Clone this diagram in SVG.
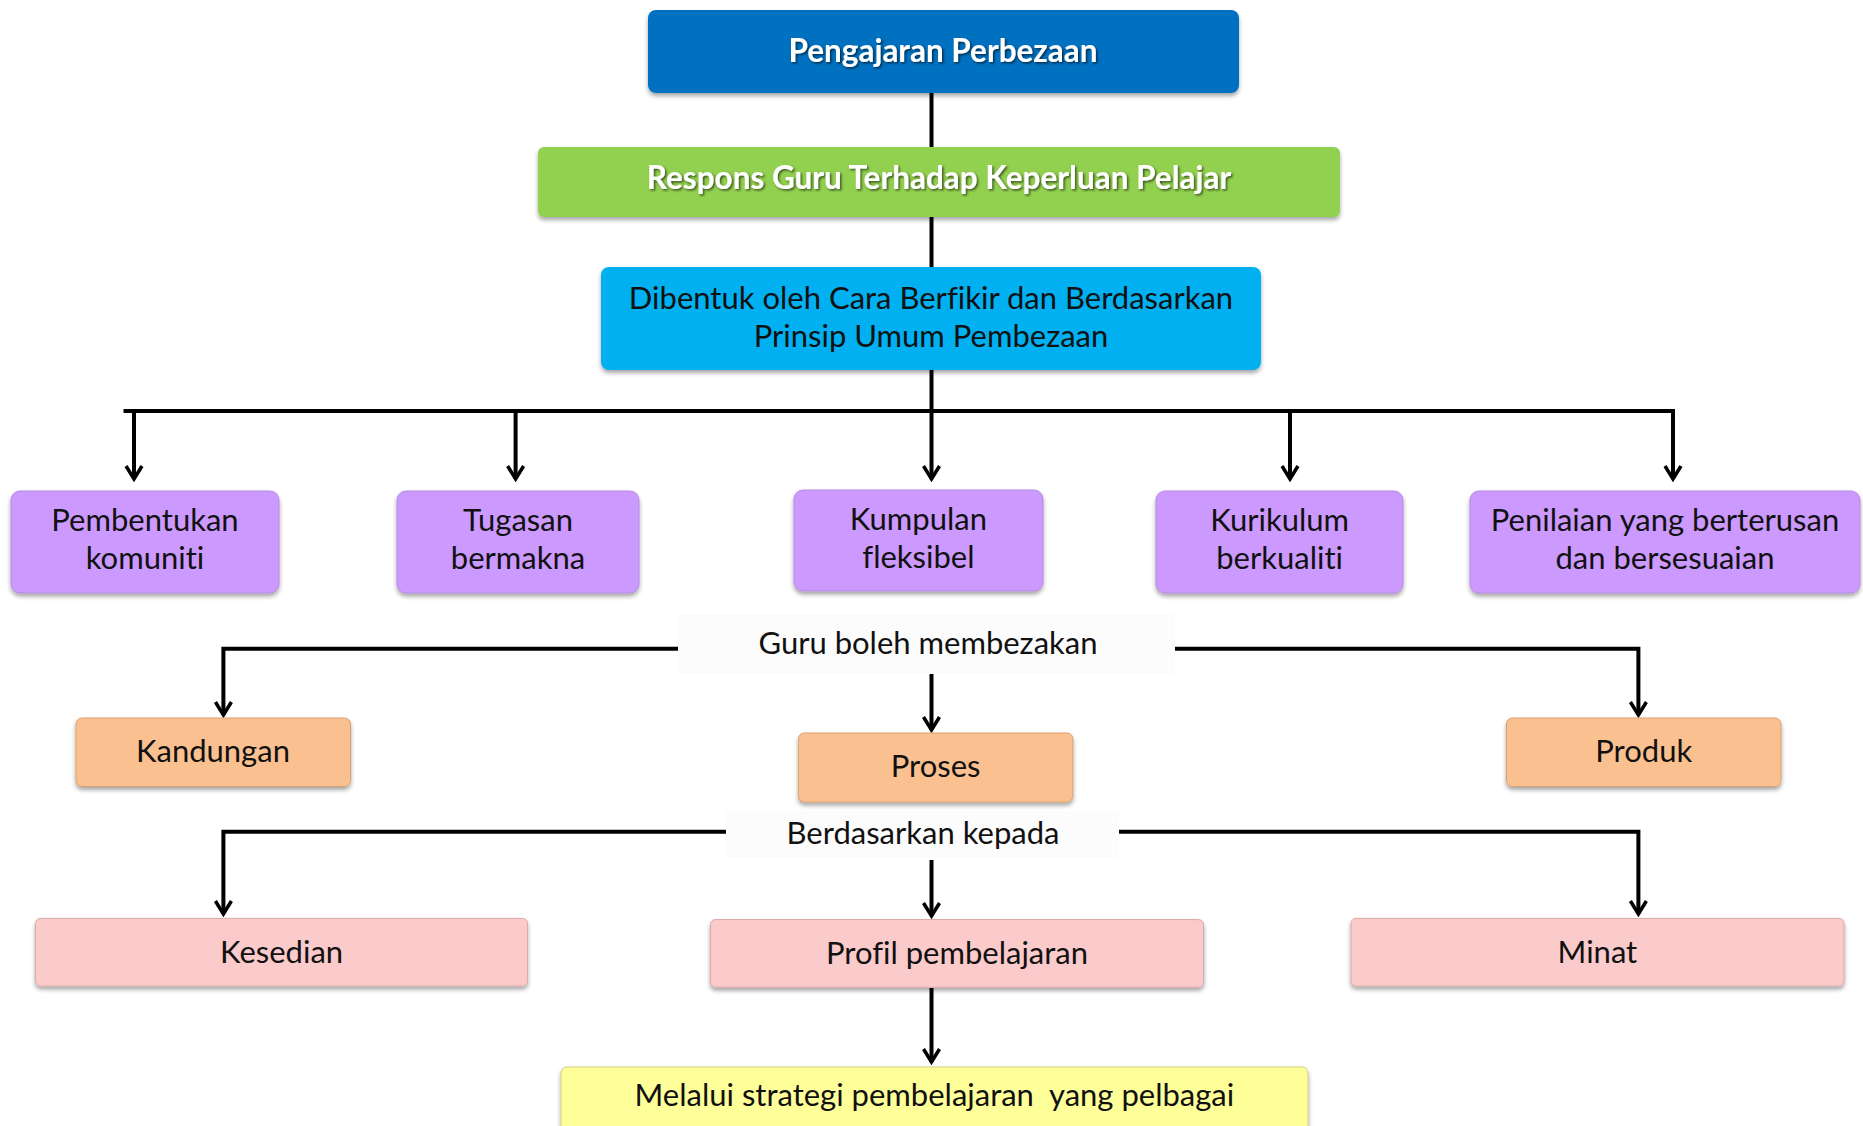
<svg xmlns="http://www.w3.org/2000/svg" width="1863" height="1126" viewBox="0 0 1863 1126">
<style>
.t{font-family:Lato,"Open Sans","Liberation Sans",sans-serif;fill:#111;text-anchor:middle;font-size:31px;font-variant-ligatures:none}
.tb{font-family:Lato,"Open Sans","Liberation Sans",sans-serif;font-weight:bold;fill:#fff;text-anchor:middle;font-size:31.5px;font-variant-ligatures:none}
.ln{stroke:#000;stroke-width:4;fill:none}
.ar{stroke:#000;stroke-width:4;fill:none;marker-end:url(#ah)}
</style>
<defs>
<filter id="sh" x="-5%" y="-10%" width="110%" height="130%">
<feDropShadow dx="0" dy="3" stdDeviation="2" flood-color="#000" flood-opacity="0.35"/>
</filter>
<filter id="ts" x="-5%" y="-30%" width="110%" height="160%">
<feDropShadow dx="1.5" dy="1.5" stdDeviation="0.8" flood-color="#000" flood-opacity="0.6"/>
</filter>
<marker id="ah" viewBox="0 0 20 20" refX="17" refY="10" markerWidth="20" markerHeight="20" markerUnits="userSpaceOnUse" orient="auto">
<path d="M4,2 L17,10 L4,18" fill="none" stroke="#000" stroke-width="3.5" stroke-linejoin="miter"/>
</marker>
</defs>
<rect width="1863" height="1126" fill="#fff"/>

<g id="connectors">
<path class="ln" d="M931.5,93 V147"/>
<path class="ln" d="M931.5,217 V267"/>
<path class="ln" d="M931.5,370 V411"/>
<path class="ln" d="M123.5,411 H1675"/>
<path class="ar" d="M134,411 V479"/>
<path class="ar" d="M515.6,411 V479"/>
<path class="ar" d="M931.5,411 V479"/>
<path class="ar" d="M1290,411 V479"/>
<path class="ar" d="M1673,409 V479"/>
<path class="ar" d="M678,648.7 H223.4 V715"/>
<path class="ar" d="M1175,648.7 H1638.4 V715"/>
<path class="ar" d="M931.5,662 V730"/>
<path class="ar" d="M726,831.7 H223.4 V914"/>
<path class="ar" d="M1119,831.7 H1638.4 V914"/>
<path class="ar" d="M931.5,860 V916"/>
<path class="ar" d="M931.5,988 V1062"/>
</g>

<g id="n-pengajaran">
<rect x="648" y="10" width="591" height="83" rx="8" fill="#0070C0" filter="url(#sh)"/>
<text class="tb" x="943" y="62" filter="url(#ts)">Pengajaran Perbezaan</text>
</g>
<g id="n-respons">
<rect x="538" y="147" width="802" height="70" rx="6" fill="#92D050" filter="url(#sh)"/>
<text class="tb" x="939" y="189" filter="url(#ts)">Respons Guru Terhadap Keperluan Pelajar</text>
</g>
<g id="n-dibentuk">
<rect x="601" y="267" width="660" height="103" rx="8" fill="#00B0F0" filter="url(#sh)"/>
<text class="t" x="931" y="308.5">Dibentuk oleh Cara Berfikir dan Berdasarkan</text>
<text class="t" x="931" y="346.5">Prinsip Umum Pembezaan</text>
</g>

<g id="n-pembentukan">
<rect x="11" y="491" width="268" height="102" rx="9" fill="#CC99FF" stroke="#b58ae0" filter="url(#sh)"/>
<text class="t" x="145" y="531">Pembentukan</text>
<text class="t" x="145" y="569">komuniti</text>
</g>
<g id="n-tugasan">
<rect x="397" y="491" width="242" height="102" rx="9" fill="#CC99FF" stroke="#b58ae0" filter="url(#sh)"/>
<text class="t" x="518" y="531">Tugasan</text>
<text class="t" x="518" y="569">bermakna</text>
</g>
<g id="n-kumpulan">
<rect x="794" y="490" width="249" height="101" rx="9" fill="#CC99FF" stroke="#b58ae0" filter="url(#sh)"/>
<text class="t" x="918.4" y="530">Kumpulan</text>
<text class="t" x="918.4" y="568">fleksibel</text>
</g>
<g id="n-kurikulum">
<rect x="1156" y="491" width="247" height="102" rx="9" fill="#CC99FF" stroke="#b58ae0" filter="url(#sh)"/>
<text class="t" x="1279.6" y="531">Kurikulum</text>
<text class="t" x="1279.6" y="569">berkualiti</text>
</g>
<g id="n-penilaian">
<rect x="1470" y="491" width="390" height="102" rx="9" fill="#CC99FF" stroke="#b58ae0" filter="url(#sh)"/>
<text class="t" x="1665" y="531">Penilaian yang berterusan</text>
<text class="t" x="1665" y="569">dan bersesuaian</text>
</g>

<g id="n-guru">
<rect x="678" y="614" width="497" height="60" fill="#FCFCFC"/>
<text class="t" x="928" y="654">Guru boleh membezakan</text>
</g>

<g id="n-kandungan">
<rect x="76" y="718" width="274.5" height="68.5" rx="6" fill="#FAC090" stroke="#d9a070" filter="url(#sh)"/>
<text class="t" x="213" y="762">Kandungan</text>
</g>
<g id="n-proses">
<rect x="798.4" y="733" width="274.5" height="69" rx="6" fill="#FAC090" stroke="#d9a070" filter="url(#sh)"/>
<text class="t" x="935.6" y="777">Proses</text>
</g>
<g id="n-produk">
<rect x="1506.5" y="718" width="274.5" height="68.5" rx="6" fill="#FAC090" stroke="#d9a070" filter="url(#sh)"/>
<text class="t" x="1643.7" y="762">Produk</text>
</g>

<g id="n-berdasarkan">
<rect x="726" y="811" width="393" height="47" fill="#FCFCFC"/>
<text class="t" x="923" y="844">Berdasarkan kepada</text>
</g>

<g id="n-kesedian">
<rect x="35.6" y="918.4" width="492" height="67.6" rx="5" fill="#FBCACA" stroke="#d9a8a8" filter="url(#sh)"/>
<text class="t" x="281.6" y="963">Kesedian</text>
</g>
<g id="n-profil">
<rect x="710.5" y="919.6" width="493" height="67.6" rx="5" fill="#FBCACA" stroke="#d9a8a8" filter="url(#sh)"/>
<text class="t" x="957" y="964">Profil pembelajaran</text>
</g>
<g id="n-minat">
<rect x="1351" y="918.4" width="493" height="67.6" rx="5" fill="#FBCACA" stroke="#d9a8a8" filter="url(#sh)"/>
<text class="t" x="1597.4" y="963">Minat</text>
</g>

<g id="n-melalui">
<rect x="561" y="1067" width="747" height="75" rx="6" fill="#FFFF99" stroke="#d0d080" filter="url(#sh)"/>
<text class="t" x="934.4" y="1106" xml:space="preserve">Melalui strategi pembelajaran  yang pelbagai</text>
</g>
</svg>
